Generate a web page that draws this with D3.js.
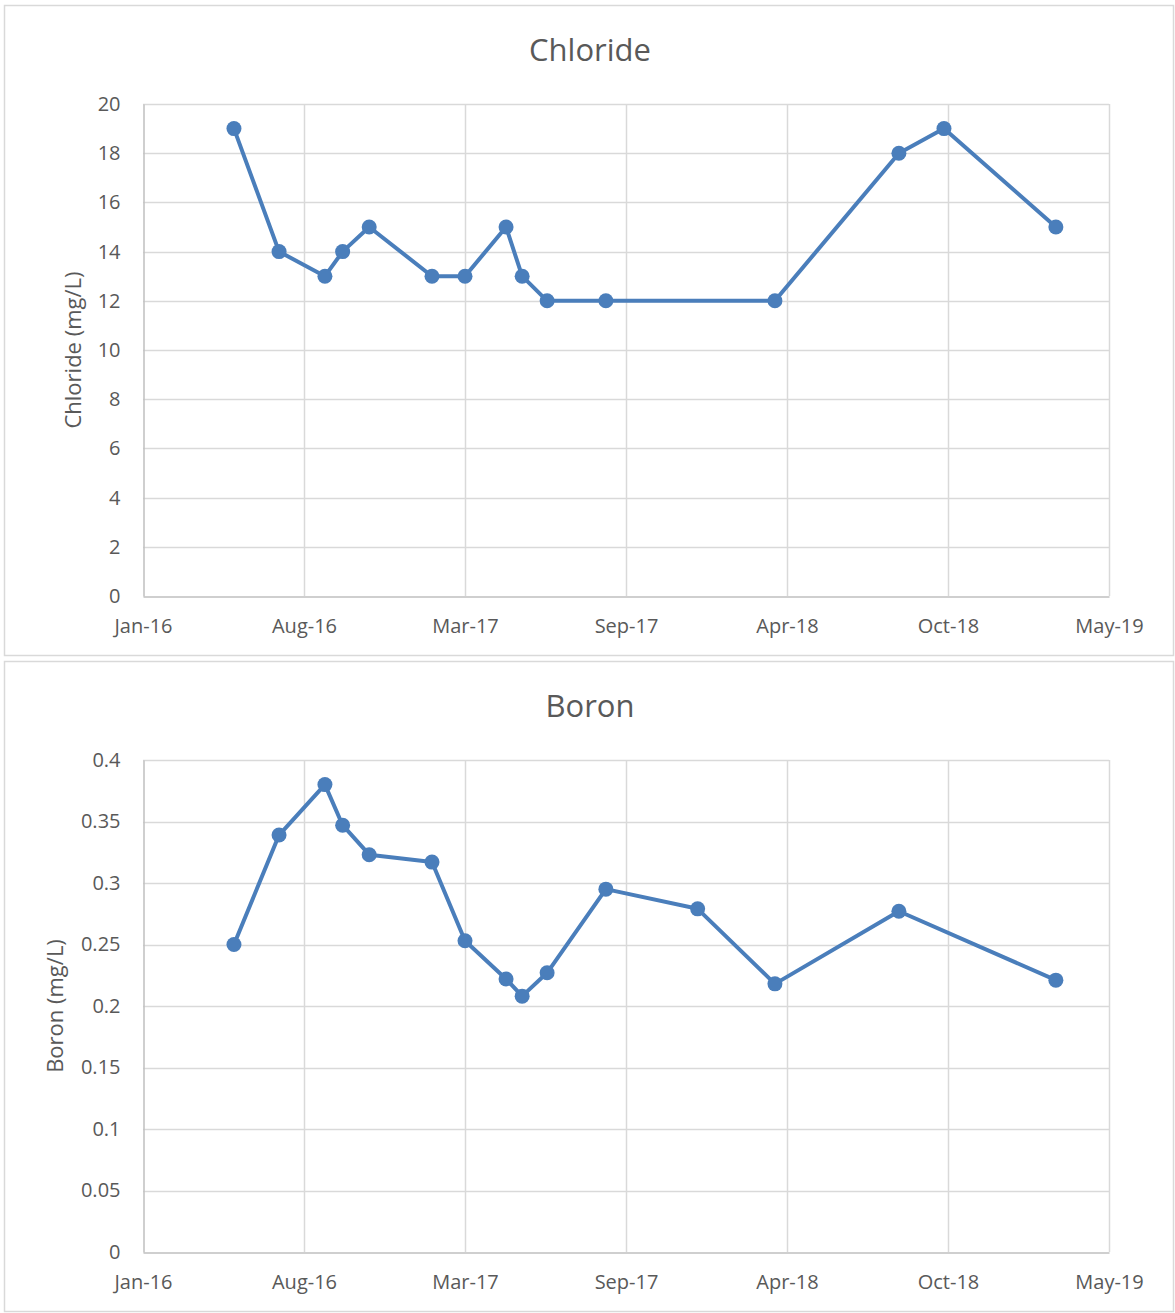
<!DOCTYPE html>
<html><head><meta charset="utf-8">
<script src="https://cdn.jsdelivr.net/npm/d3@7"></script>
<style>body{margin:0;background:#fff}svg{display:block}text{font-family:"Open Sans",sans-serif;fill:#595959}</style>
</head><body>
<svg id="c" width="1175" height="1313"></svg>
<script>
const chlorideDates = ["2016-05-21","2016-07-16","2016-09-11","2016-10-03","2016-11-05","2017-01-22","2017-03-04","2017-04-24","2017-05-14","2017-06-14","2017-08-26","2018-03-24","2018-08-25","2018-10-20","2019-03-08"];
const chlorideValues = [19,14,13,14,15,13,13,15,13,12,12,12,18,19,15];
const boronDates = ["2016-05-21","2016-07-16","2016-09-11","2016-10-03","2016-11-05","2017-01-22","2017-03-04","2017-04-24","2017-05-14","2017-06-14","2017-08-26","2017-12-18","2018-03-24","2018-08-25","2019-03-08"];
const boronValues = [0.25,0.339,0.38,0.347,0.323,0.317,0.253,0.222,0.208,0.227,0.295,0.279,0.218,0.277,0.221];
const xStart = "2016-01-29";
const xStepDays = 200;
const xSteps = 6;
const chlorideTicks = [0,2,4,6,8,10,12,14,16,18,20];
const boronTicks = [0,0.05,0.1,0.15,0.2,0.25,0.3,0.35,0.4];

const parse = d3.utcParse("%Y-%m-%d");
const fmt = d3.utcFormat("%b-%y");
const svg = d3.select("#c");
const color = "#4a7ebb";
const t0 = parse(xStart);
const t1 = d3.utcDay.offset(t0, xStepDays*xSteps);
const xTickVals = d3.range(xSteps+1).map(i => d3.utcDay.offset(t0, i*xStepDays));

function panel(oy, title, ytitle, dates, values, yTicks, yMax, yfmt, ytx) {
  const g = svg.append("g").attr("transform", `translate(0,${oy})`);
  g.append("rect").attr("x",4.5).attr("y",5.5).attr("width",1169).attr("height",650)
    .attr("fill","#fff").attr("stroke","#d9d9d9").attr("stroke-width",1.5);
  const x = d3.scaleUtc().domain([t0,t1]).range([143,1109]);
  const y = d3.scaleLinear().domain([0,yMax]).range([596,104]);
  g.append("g").selectAll("line.h").data(yTicks.filter(d=>d>0)).join("line")
    .attr("x1",143).attr("x2",1109).attr("y1",d=>Math.round(y(d))+0.5).attr("y2",d=>Math.round(y(d))+0.5)
    .attr("stroke","#d9d9d9").attr("stroke-width",1.5);
  g.append("g").selectAll("line.v").data(xTickVals.slice(1)).join("line")
    .attr("y1",104).attr("y2",596).attr("x1",d=>Math.round(x(d))+0.5).attr("x2",d=>Math.round(x(d))+0.5)
    .attr("stroke","#d9d9d9").attr("stroke-width",1.5);
  const xa = g.append("g").attr("transform","translate(0,596.5)")
    .call(d3.axisBottom(x).tickValues(xTickVals).tickFormat(fmt).tickSize(0).tickPadding(22));
  xa.select(".domain").attr("stroke","#bfbfbf").attr("stroke-width",1.5);
  xa.selectAll("text").style("font-size","20px").attr("fill","#595959");
  const ya = g.append("g").attr("transform","translate(143.5,0)")
    .call(d3.axisLeft(y).tickValues(yTicks).tickFormat(yfmt).tickSize(0).tickPadding(23));
  ya.select(".domain").attr("stroke","#bfbfbf").attr("stroke-width",1.5);
  ya.selectAll("text").style("font-size","20px").attr("fill","#595959");
  g.append("text").attr("x",590).attr("y",61).attr("text-anchor","middle")
    .style("font-size","31px").text(title);
  g.append("text").attr("transform",`translate(${ytx},350) rotate(-90)`).attr("text-anchor","middle")
    .attr("dy","0.35em").style("font-size","22px").text(ytitle);
  const data = dates.map((d,i)=>({d:parse(d), v:values[i]}));
  g.append("path").datum(data).attr("fill","none").attr("stroke",color).attr("stroke-width",4)
    .attr("stroke-linejoin","round")
    .attr("d", d3.line().x(d=>x(d.d)).y(d=>y(d.v)));
  g.selectAll("circle").data(data).join("circle")
    .attr("cx",d=>x(d.d)).attr("cy",d=>y(d.v)).attr("r",7.5).attr("fill",color);
}
panel(0, "Chloride", "Chloride (mg/L)", chlorideDates, chlorideValues, chlorideTicks, 20, d3.format("d"), 73);
panel(656, "Boron", "Boron (mg/L)", boronDates, boronValues, boronTicks, 0.4, d => d===0 ? "0" : String(+d.toFixed(2)), 55);
</script>
</body></html>
